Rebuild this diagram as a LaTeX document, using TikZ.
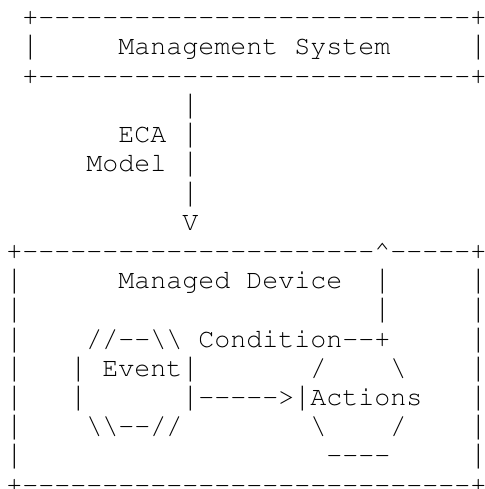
\documentclass[tikz,border=0pt]{standalone}
\usepackage[T1]{fontenc}
\usepackage{fontspec}
\usepackage{graphicx}
\newfontfamily\barfont{Liberation Mono}
\newcommand\rpt[2]{\foreach \k in {1,...,#1}{#2}}
\newcommand\bs{\textbackslash}
\newcommand\vb{\makebox[0.6em][c]{\scalebox{0.6}[1]{\barfont|}}}
\newcommand\eol{\kern-4pt}
\newcommand\asciifont{\fontencoding{T1}\fontfamily{pcr}\fontseries{m}\fontshape{n}\fontsize{26.67pt}{29.2pt}\selectfont\frenchspacing}
\begin{document}
\begin{tikzpicture}[x=1pt,y=1pt,
  row/.style={anchor=base west,inner sep=0pt,outer sep=0pt,text=black,font=\asciifont}]
\useasboundingbox (0,0) rectangle (484,-489);
\def\lx{6.3}
% Management System box
\node[row] (r1)  at (\lx,-25.8)  {\rpt{1}{~}+\rpt{27}{-}+\eol};
\node[row] (r2)  at (\lx,-55.0)  {\rpt{1}{~}\vb\rpt{5}{~}Management~System\rpt{5}{~}\vb\eol};
\node[row] (r3)  at (\lx,-84.2)  {\rpt{1}{~}+\rpt{27}{-}+\eol};
% ECA Model connector
\node[row] (r4)  at (\lx,-113.4) {\rpt{11}{~}\vb};
\node[row] (r5)  at (\lx,-142.6) {\rpt{7}{~}ECA~\vb};
\node[row] (r6)  at (\lx,-171.8) {\rpt{5}{~}Model~\vb};
\node[row] (r7)  at (\lx,-201.0) {\rpt{11}{~}\vb};
\node[row] (r8)  at (\lx,-230.2) {\rpt{11}{~}V};
% Managed Device box
\node[row] (r9)  at (\lx,-259.4) {+\rpt{22}{-}\textasciicircum\rpt{5}{-}+\eol};
\node[row] (r10) at (\lx,-288.6) {\vb\rpt{6}{~}Managed~Device\rpt{2}{~}\vb\rpt{5}{~}\vb\eol};
\node[row] (r11) at (\lx,-317.8) {\vb\rpt{22}{~}\vb\rpt{5}{~}\vb\eol};
\node[row] (r12) at (\lx,-347.0) {\vb\rpt{4}{~}//-{}-\bs\bs~Condition-{}-+\rpt{5}{~}\vb\eol};
\node[row] (r13) at (\lx,-376.2) {\vb\rpt{3}{~}\vb~Event\vb\rpt{7}{~}/\rpt{4}{~}\bs\rpt{4}{~}\vb\eol};
\node[row] (r14) at (\lx,-405.4) {\vb\rpt{3}{~}\vb\rpt{6}{~}\vb-{}-{}-{}-{}->\vb Actions\rpt{3}{~}\vb\eol};
\node[row] (r15) at (\lx,-434.6) {\vb\rpt{4}{~}\bs\bs-{}-//\rpt{8}{~}\bs\rpt{4}{~}/\rpt{4}{~}\vb\eol};
\node[row] (r16) at (\lx,-463.8) {\vb\rpt{19}{~}-{}-{}-{}-\rpt{5}{~}\vb\eol};
\node[row] (r17) at (\lx,-493.0) {+\rpt{28}{-}+\eol};
\end{tikzpicture}
\end{document}
